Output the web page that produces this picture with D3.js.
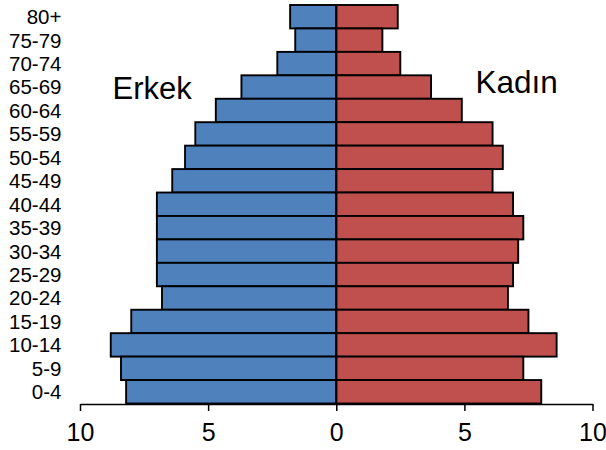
<!DOCTYPE html>
<html><head><meta charset="utf-8">
<script src="https://cdn.jsdelivr.net/npm/d3@7/dist/d3.min.js"></script>
<style>body{margin:0;background:#fff}svg{display:block}text{font-family:"Liberation Sans",Arial,sans-serif;fill:#000}</style>
</head><body><svg id="c" width="606" height="450"></svg>
<script>
const ageGroups = ["80+","75-79","70-74","65-69","60-64","55-59","50-54","45-49","40-44","35-39","30-34","25-29","20-24","15-19","10-14","5-9","0-4"];
const male   = [1.8,1.6,2.3,3.7,4.7,5.5,5.9,6.4,7.0,7.0,7.0,7.0,6.8,8.0,8.8,8.4,8.2];
const female = [2.4,1.8,2.5,3.7,4.9,6.1,6.5,6.1,6.9,7.3,7.1,6.9,6.7,7.5,8.6,7.3,8.0];
const tickValues = [-10,-5,0,5,10];
const seriesNames = ["Erkek","Kadın"];

const svg = d3.select("#c");
const x = d3.scaleLinear().domain([-10,10]).range([80,592.5]);
const y = d3.scaleBand().domain(ageGroups).range([5,403.5]).padding(0);

svg.append("g").selectAll("rect").data(ageGroups).join("rect")
  .attr("x", (d,i)=>x(-male[i])).attr("y", d=>y(d))
  .attr("width", (d,i)=>x(0)-x(-male[i])).attr("height", y.bandwidth())
  .attr("fill","#4F81BD").attr("stroke","#000").attr("stroke-width",1.9);
svg.append("g").selectAll("rect").data(ageGroups).join("rect")
  .attr("x", x(0)).attr("y", d=>y(d))
  .attr("width", (d,i)=>x(female[i])-x(0)).attr("height", y.bandwidth())
  .attr("fill","#C0504D").attr("stroke","#000").attr("stroke-width",1.9);

// center line
svg.append("line").attr("x1",x(0)).attr("x2",x(0)).attr("y1",4).attr("y2",404)
  .attr("stroke","#000").attr("stroke-width",2);

const xAxis = d3.axisBottom(x).tickValues(tickValues).tickFormat(d=>Math.abs(d)).tickSize(7).tickSizeOuter(0).tickPadding(12);
const gx = svg.append("g").attr("transform","translate(0,404)").call(xAxis);
gx.select(".domain").attr("stroke","#000").attr("stroke-width",1.5);
gx.selectAll(".tick line").attr("stroke","#000").attr("stroke-width",1.5);
gx.selectAll(".tick text").style("font-size","25px").style("font-family","'Liberation Sans',Arial,sans-serif").attr("fill","#000");

svg.append("g").selectAll("text").data(ageGroups).join("text")
  .attr("x",61.5).attr("y",d=>y(d)+y.bandwidth()/2).attr("dy","0.36em")
  .attr("text-anchor","end").style("font-size","20.5px").text(d=>d);

svg.append("text").attr("x",112.5).attr("y",99).style("font-size","31px").text(seriesNames[0]);
svg.append("text").attr("x",475.5).attr("y",93).style("font-size","31.5px").text(seriesNames[1]);
</script></body></html>
